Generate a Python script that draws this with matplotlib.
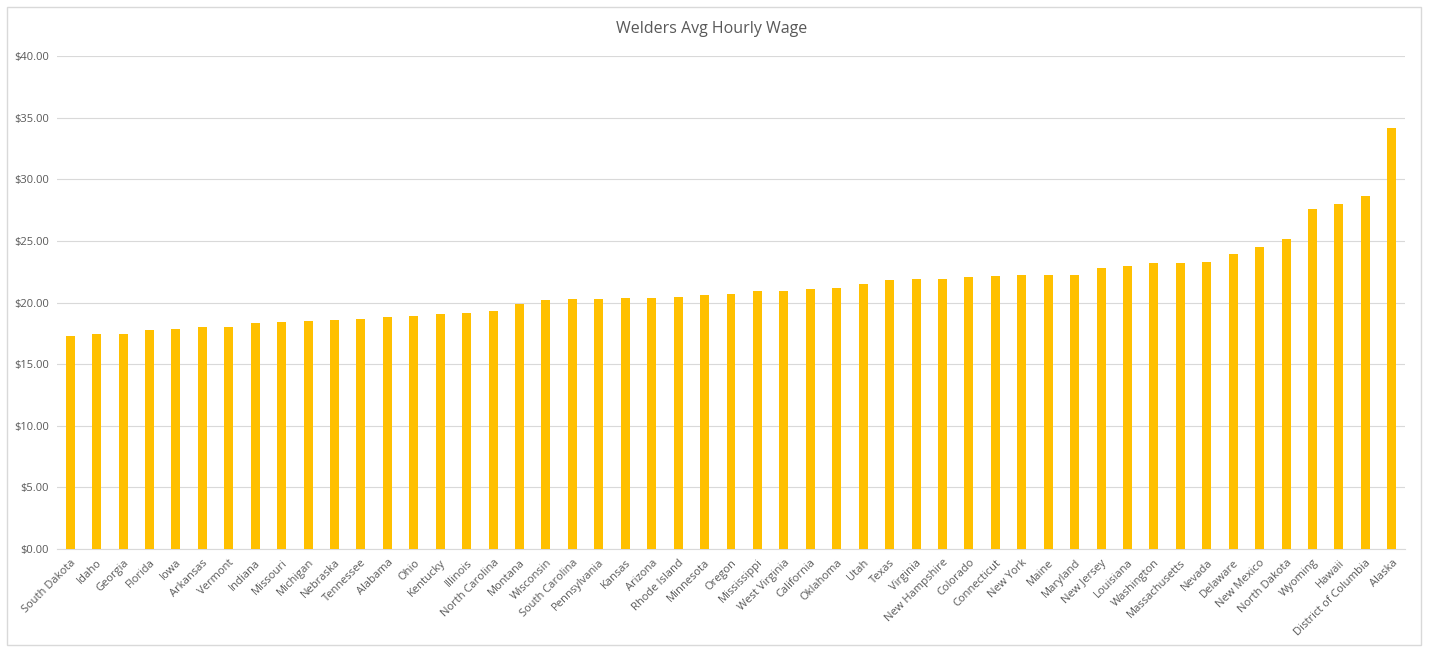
import matplotlib.pyplot as plt
from matplotlib.patches import Rectangle
from matplotlib.ticker import FuncFormatter

states = ["South Dakota", "Idaho", "Georgia", "Florida", "Iowa", "Arkansas", "Vermont",
          "Indiana", "Missouri", "Michigan", "Nebraska", "Tennessee", "Alabama", "Ohio",
          "Kentucky", "Illinois", "North Carolina", "Montana", "Wisconsin", "South Carolina",
          "Pennsylvania", "Kansas", "Arizona", "Rhode Island", "Minnesota", "Oregon",
          "Mississippi", "West Virginia", "California", "Oklahoma", "Utah", "Texas",
          "Virginia", "New Hampshire", "Colorado", "Connecticut", "New York", "Maine",
          "Maryland", "New Jersey", "Louisiana", "Washington", "Massachusetts", "Nevada",
          "Delaware", "New Mexico", "North Dakota", "Wyoming", "Hawaii",
          "District of Columbia", "Alaska"]
wages = [17.31, 17.47, 17.47, 17.80, 17.88, 18.05, 18.05,
         18.30, 18.38, 18.46, 18.55, 18.63, 18.79, 18.87,
         19.04, 19.12, 19.28, 19.86, 20.19, 20.27,
         20.27, 20.35, 20.35, 20.43, 20.60, 20.65,
         20.97, 20.97, 21.06, 21.14, 21.54, 21.79,
         21.87, 21.87, 22.03, 22.19, 22.27, 22.27,
         22.27, 22.76, 23.00, 23.17, 23.17, 23.25,
         23.90, 24.47, 25.12, 27.55, 27.96,
         28.61, 34.13]

plt.rcParams['font.family'] = ['Open Sans', 'DejaVu Sans']
grey = '#595959'

fig = plt.figure(figsize=(14.29, 6.53), dpi=100)
fig.patches.append(Rectangle((7 / 1429, 8 / 653), 1414 / 1429, 638 / 653,
                             transform=fig.transFigure, fill=False,
                             edgecolor='#D9D9D9', linewidth=1))
ax = fig.add_axes([0.0399, 0.1593, 0.9433, 0.7549])

x = range(len(states))
ax.bar(x, wages, width=0.34, color='#FFC000', zorder=3)

ax.set_xlim(-0.5, len(states) - 0.5)
ax.set_ylim(0, 40)
ax.set_yticks(range(0, 41, 5))
ax.yaxis.set_major_formatter(FuncFormatter(lambda v, p: f"${v:.2f}"))
ax.set_xticks(list(x))
ax.set_xticklabels(states, rotation=45, ha='right', rotation_mode='anchor')
ax.tick_params(axis='both', length=0, labelsize=8, colors=grey)
ax.tick_params(axis='x', pad=6)
ax.tick_params(axis='y', pad=6)
ax.grid(axis='y', color='#D9D9D9', linewidth=0.8, zorder=0)
for s in ['top', 'right', 'left']:
    ax.spines[s].set_visible(False)
ax.spines['bottom'].set_color('#D9D9D9')

fig.text(0.4983, 0.955, "Welders Avg Hourly Wage", ha='center', va='center',
         fontsize=11.5, color=grey)

fig.savefig('out.png', dpi=100)
